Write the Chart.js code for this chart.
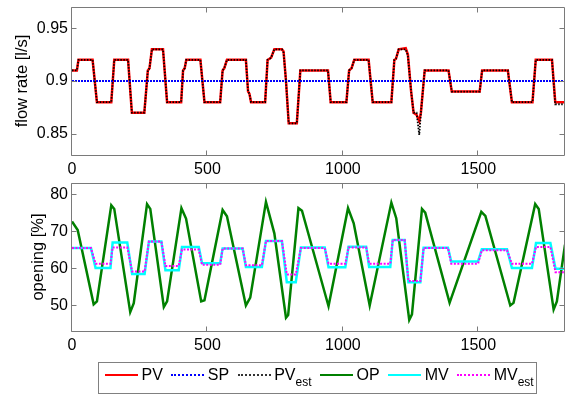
<!DOCTYPE html>
<html>
<head>
<meta charset="utf-8">
<script src="https://cdn.jsdelivr.net/npm/chart.js@4/dist/chart.umd.min.js"></script>
<style>
  body { margin: 0; background: #fff; font-family: "Liberation Sans", Arial, sans-serif; }
  #wrap { position: relative; width: 571px; height: 397px; background: #fff; overflow: hidden; }
  #flow-chart { position: absolute; left: 0; top: 0; }
  #opening-chart { position: absolute; left: 0; top: 176px; }
  #legend {
    position: absolute; left: 98px; top: 362px; width: 439px; height: 32px;
    border: 1px solid #808080; background: #fff; box-sizing: border-box;
  }
  #legend .row { position: absolute; left: 6px; top: 4px; display: flex; align-items: center; height: 16px; }
  #legend .item { display: flex; align-items: center; margin-right: 8.5px; }
  #legend .line { width: 33px; height: 0; margin-right: 3.5px; }
  #legend .txt { font-size: 16px; line-height: 16px; color: #000; white-space: nowrap; }
  #legend sub { font-size: 12px; vertical-align: -6px; line-height: 0; }
</style>
</head>
<body>
<div id="wrap">
  <canvas id="flow-chart" width="571" height="180"></canvas>
  <canvas id="opening-chart" width="571" height="180"></canvas>
  <div id="legend">
    <div class="row">
      <div class="item"><div class="line" style="border-top:2px solid #ff0000"></div><span class="txt">PV</span></div>
      <div class="item"><div class="line" style="border-top:2px dotted #0000ff"></div><span class="txt">SP</span></div>
      <div class="item"><div class="line" style="border-top:2px dotted #333"></div><span class="txt">PV<sub>est</sub></span></div>
      <div class="item"><div class="line" style="border-top:2px solid #008000"></div><span class="txt">OP</span></div>
      <div class="item"><div class="line" style="border-top:2px solid #00ffff"></div><span class="txt">MV</span></div>
      <div class="item"><div class="line" style="border-top:2px dotted #ff00ff"></div><span class="txt">MV<sub>est</sub></span></div>
    </div>
  </div>
</div>
<script>
// --- data ---
const xTicks = [0, 500, 1000, 1500];
const flowTicks = [0.85, 0.9, 0.95];
const openTicks = [50, 60, 70, 80];

// flow rate: process value and its estimate
const pvTime = [0, 18, 24, 76, 92, 145, 156, 207, 221, 267, 280, 286, 295, 336, 351, 403, 410, 416, 422, 474, 489,
  547, 556, 562, 572, 642, 650, 655, 661, 713, 722, 735, 747, 775, 781, 790, 800, 830, 843, 945, 955, 1013, 1023,
  1032, 1042, 1095, 1110, 1179, 1190, 1196, 1206, 1232, 1240, 1252, 1261, 1272, 1282, 1288, 1302, 1390, 1402, 1505,
  1514, 1609, 1624, 1700, 1712, 1772, 1784, 1820];
const pvValues = [0.91, 0.91, 0.92, 0.92, 0.88, 0.88, 0.92, 0.92, 0.87, 0.87, 0.91, 0.912, 0.93, 0.93, 0.88, 0.88,
  0.91, 0.912, 0.92, 0.92, 0.88, 0.88, 0.91, 0.912, 0.92, 0.92, 0.89, 0.888, 0.88, 0.88, 0.92, 0.922, 0.93, 0.93,
  0.928, 0.90, 0.86, 0.86, 0.91, 0.91, 0.88, 0.88, 0.91, 0.912, 0.92, 0.92, 0.88, 0.88, 0.92, 0.921, 0.93, 0.931,
  0.925, 0.89, 0.87, 0.868, 0.862, 0.87, 0.91, 0.91, 0.89, 0.89, 0.91, 0.91, 0.88, 0.88, 0.92, 0.92, 0.88, 0.88];
const pvEstValues = [0.91, 0.91, 0.92, 0.92, 0.88, 0.88, 0.92, 0.92, 0.87, 0.87, 0.91, 0.912, 0.93, 0.93, 0.88, 0.88,
  0.91, 0.912, 0.92, 0.92, 0.88, 0.88, 0.91, 0.912, 0.92, 0.92, 0.89, 0.888, 0.88, 0.88, 0.92, 0.922, 0.93, 0.93,
  0.927, 0.90, 0.86, 0.86, 0.91, 0.91, 0.88, 0.88, 0.91, 0.912, 0.92, 0.92, 0.88, 0.88, 0.92, 0.921, 0.93, 0.93,
  0.924, 0.89, 0.87, 0.87, 0.849, 0.87, 0.91, 0.91, 0.89, 0.89, 0.91, 0.91, 0.88, 0.88, 0.92, 0.92, 0.878, 0.878];
const spTime = [0, 1820];
const spValues = [0.9, 0.9];

// valve opening: controller output
const opTime = [0, 21, 80, 92, 145, 156, 215, 228, 277, 289, 339, 351, 404, 421, 477, 489, 556, 572, 642, 658, 716,
  747, 790, 798, 836, 849, 947, 1019, 1040, 1099, 1179, 1197, 1245, 1255, 1292, 1304, 1394, 1511, 1526, 1618, 1630,
  1710, 1723, 1778, 1790, 1820];
const opValues = [72.6, 70.3, 50.2, 51, 77.0, 76, 48.1, 50.5, 77.3, 76, 49.5, 51, 76.2, 73.4, 51.0, 51.3, 75.7, 74,
  49.9, 52, 77.9, 69.4, 46.6, 47.3, 76.2, 75.5, 49.7, 76.2, 72.1, 49.9, 77.7, 73.5, 46.0, 47.5, 76.0, 75, 50.6, 75.2,
  74.1, 49.9, 50.6, 77.3, 76, 48.8, 51, 66.3];

// valve opening: manipulated value and its estimate
const mvTime = [0, 70, 87, 142, 150, 204, 222, 268, 284, 330, 345, 394, 406, 468, 480, 547, 556, 630, 642, 701, 716,
  775, 793, 826, 845, 933, 947, 1009, 1021, 1086, 1097, 1175, 1184, 1228, 1242, 1286, 1298, 1388, 1400, 1499, 1513,
  1606, 1624, 1698, 1713, 1766, 1785, 1820];
const mvValues = [65.4, 65.4, 60.0, 60.0, 66.9, 66.9, 58.4, 58.4, 67.2, 67.2, 59.4, 59.4, 65.7, 65.7, 61.3, 61.3,
  65.3, 65.3, 60.3, 60.3, 67.3, 67.3, 56.2, 56.2, 65.6, 65.6, 60.2, 60.2, 65.8, 65.8, 60.3, 60.3, 67.6, 67.6, 56.2,
  56.2, 65.5, 65.5, 61.8, 61.8, 65.1, 65.1, 60.0, 60.0, 66.8, 66.8, 59.8, 59.8];
const mvEstValues = [65.4, 65.4, 61.2, 61.2, 65.6, 65.6, 59.1, 59.1, 67.2, 67.2, 60.6, 60.6, 65.0, 65.0, 60.9, 60.9,
  65.3, 65.3, 60.8, 60.8, 67.3, 67.3, 58.3, 58.3, 65.4, 65.4, 61.2, 61.2, 65.6, 65.6, 61.2, 61.2, 67.6, 67.6, 56.5,
  56.5, 65.4, 65.4, 61.2, 61.2, 64.8, 64.8, 61.2, 61.2, 65.7, 65.7, 58.9, 58.9];

const X_MAX = 1820;

Chart.defaults.font.family = '"Liberation Sans", Arial, Helvetica, sans-serif';
Chart.defaults.color = "#000";

function toPoints(times, values) {
  return times.map((t, i) => ({ x: t, y: values[i] }));
}

// matlab style box with inward ticks on all four sides
const boxTicks = {
  id: "boxTicks",
  afterDraw(chart) {
    const { ctx, chartArea: a, scales } = chart;
    const l = a.left - 0.5, r = a.right - 0.5, t = a.top + 0.5, b = a.bottom + 0.5;
    ctx.save();
    ctx.strokeStyle = "#7a7a7a";
    ctx.lineWidth = 1;
    ctx.beginPath();
    ctx.rect(l, t, r - l, b - t);
    scales.x.ticks.forEach(tk => {
      const x = Math.round(scales.x.getPixelForValue(tk.value)) - 0.5;
      ctx.moveTo(x, b); ctx.lineTo(x, b - 5);
      ctx.moveTo(x, t); ctx.lineTo(x, t + 5);
    });
    scales.y.ticks.forEach(tk => {
      const y = Math.round(scales.y.getPixelForValue(tk.value)) + 0.5;
      ctx.moveTo(l, y); ctx.lineTo(l + 5, y);
      ctx.moveTo(r, y); ctx.lineTo(r - 5, y);
    });
    ctx.stroke();
    ctx.restore();
  }
};

function makeScales(yMin, yMax, yTicks, title, titlePad) {
  return {
    x: {
      type: "linear", min: 0, max: X_MAX,
      grid: { display: false, drawTicks: false }, border: { display: false },
      afterBuildTicks: s => { s.ticks = xTicks.map(v => ({ value: v })); },
      afterFit: s => { s.height = 25; s.paddingLeft = 0; s.paddingRight = 0; },
      ticks: { padding: 5, font: { size: 16 }, maxRotation: 0, autoSkip: false, callback: v => String(v) }
    },
    y: {
      type: "linear", min: yMin, max: yMax,
      grid: { display: false, drawTicks: false }, border: { display: false },
      afterBuildTicks: s => { s.ticks = yTicks.map(v => ({ value: v })); },
      afterFit: s => { s.width = 72; s.paddingTop = 0; s.paddingBottom = 0; },
      ticks: { padding: 4, font: { size: 16 }, callback: v => String(v) },
      title: { display: true, text: title, font: { size: 16.5 }, padding: { top: titlePad, bottom: 0 } }
    }
  };
}

const baseOptions = {
  responsive: false,
  animation: false,
  devicePixelRatio: 1,
  layout: { padding: { top: 7, right: 6, left: 0, bottom: 0 } },
  elements: { point: { radius: 0 }, line: { tension: 0 } },
  plugins: { legend: { display: false }, tooltip: { enabled: false } }
};

// top: flow rate
new Chart(document.getElementById("flow-chart"), {
  type: "line",
  data: {
    datasets: [
      { label: "PV", data: toPoints(pvTime, pvValues), borderColor: "#ff0000", borderWidth: 2.5, order: 2 },
      { label: "SP", data: toPoints(spTime, spValues), borderColor: "#0000ff", borderWidth: 2, borderDash: [2, 1], order: 1 },
      { label: "PV_est", data: toPoints(pvTime, pvEstValues), borderColor: "#000", borderWidth: 1.8, borderDash: [1.5, 1.5], order: 0 }
    ]
  },
  options: { ...baseOptions, scales: makeScales(0.83, 0.97, flowTicks, "flow rate [l/s]", 13) },
  plugins: [boxTicks]
});

// bottom: valve opening
new Chart(document.getElementById("opening-chart"), {
  type: "line",
  data: {
    datasets: [
      { label: "OP", data: toPoints(opTime, opValues), borderColor: "#008000", borderWidth: 2.5, order: 2 },
      { label: "MV", data: toPoints(mvTime, mvValues), borderColor: "#00ffff", borderWidth: 2.5, order: 1 },
      { label: "MV_est", data: toPoints(mvTime, mvEstValues), borderColor: "#ff00ff", borderWidth: 2, borderDash: [2, 1.5], order: 0 }
    ]
  },
  options: { ...baseOptions, scales: makeScales(43, 83, openTicks, "opening [%]", 29) },
  plugins: [boxTicks]
});
</script>
</body>
</html>
